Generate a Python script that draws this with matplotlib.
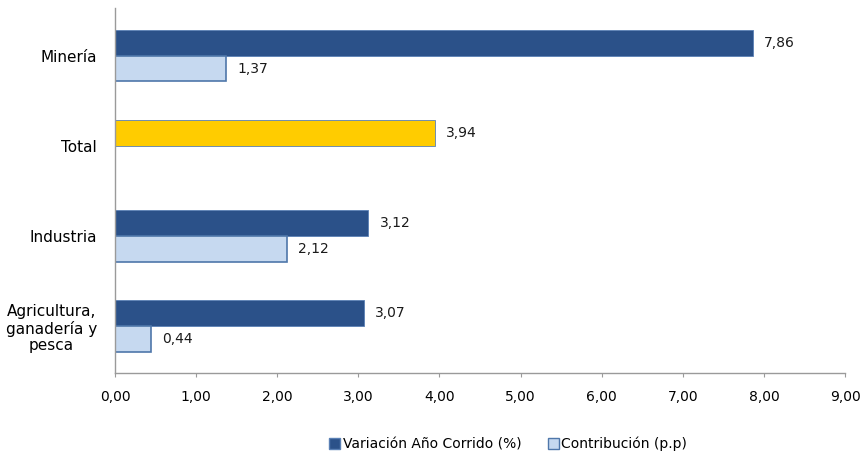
import matplotlib
matplotlib.use("Agg")
import matplotlib.pyplot as plt
from matplotlib.ticker import FuncFormatter, MultipleLocator
from matplotlib.patches import Patch
import numpy as np

plt.rcParams['font.family'] = ['DejaVu Sans']

categories = ['Agricultura,\nganadería y\npesca', 'Industria', 'Total', 'Minería']
variacion = [3.07, 3.12, 3.94, 7.86]
contribucion = [0.44, 2.12, np.nan, 1.37]
series_names = ['Variación Año Corrido (%)', 'Contribución (p.p)']

dark = '#2B5189'
light = '#C6D9F0'
light_edge = '#4F77AA'
yellow = '#FFCC00'

fig = plt.figure(figsize=(8.64, 4.54), dpi=100)
ax = fig.add_axes([0.1331, 0.1784, 0.845, 0.804])

y = np.arange(len(categories))
h = 0.285
var_colors = [yellow if c == 'Total' else dark for c in categories]
ax.barh(y + h / 2, variacion, height=h, color=var_colors, edgecolor='#5A80B5', linewidth=0.6)
contrib_vals = [0 if np.isnan(v) else v for v in contribucion]
ax.barh(y - h / 2, contrib_vals, height=h, color=light, edgecolor=light_edge, linewidth=1.2)

fmt = lambda v: f"{v:.2f}".replace('.', ',')
for yi, v in zip(y, variacion):
    ax.text(v + 0.14, yi + h / 2, fmt(v), va='center', ha='left', fontsize=10, color='#1a1a1a')
for yi, v in zip(y, contribucion):
    if not np.isnan(v):
        ax.text(v + 0.14, yi - h / 2, fmt(v), va='center', ha='left', fontsize=10, color='#1a1a1a')

ax.set_xlim(0, 9)
ax.set_ylim(-0.52, 3.53)
ax.xaxis.set_major_locator(MultipleLocator(1))
ax.xaxis.set_major_formatter(FuncFormatter(lambda v, p: fmt(v)))
ax.set_yticks(y)
ax.set_yticklabels(categories, fontsize=11, linespacing=1.15, ha='right', multialignment='center')
ax.tick_params(axis='y', length=0, pad=13)
ax.tick_params(axis='x', length=3, color='#9a9a9a', labelsize=10, pad=9)
for s in ['top', 'right']:
    ax.spines[s].set_visible(False)
for s in ['left', 'bottom']:
    ax.spines[s].set_color('#9a9a9a')
    ax.spines[s].set_linewidth(1.0)

handles = [Patch(facecolor=dark, edgecolor='#5A80B5'), Patch(facecolor=light, edgecolor=light_edge)]
fig.legend(handles, series_names, loc='center', bbox_to_anchor=(0.588, 0.022), ncol=2,
           frameon=False, fontsize=10, handlelength=0.8, handleheight=0.8, handletextpad=0.2,
           columnspacing=1.9, borderpad=0)

fig.savefig('out.png', dpi=100)
